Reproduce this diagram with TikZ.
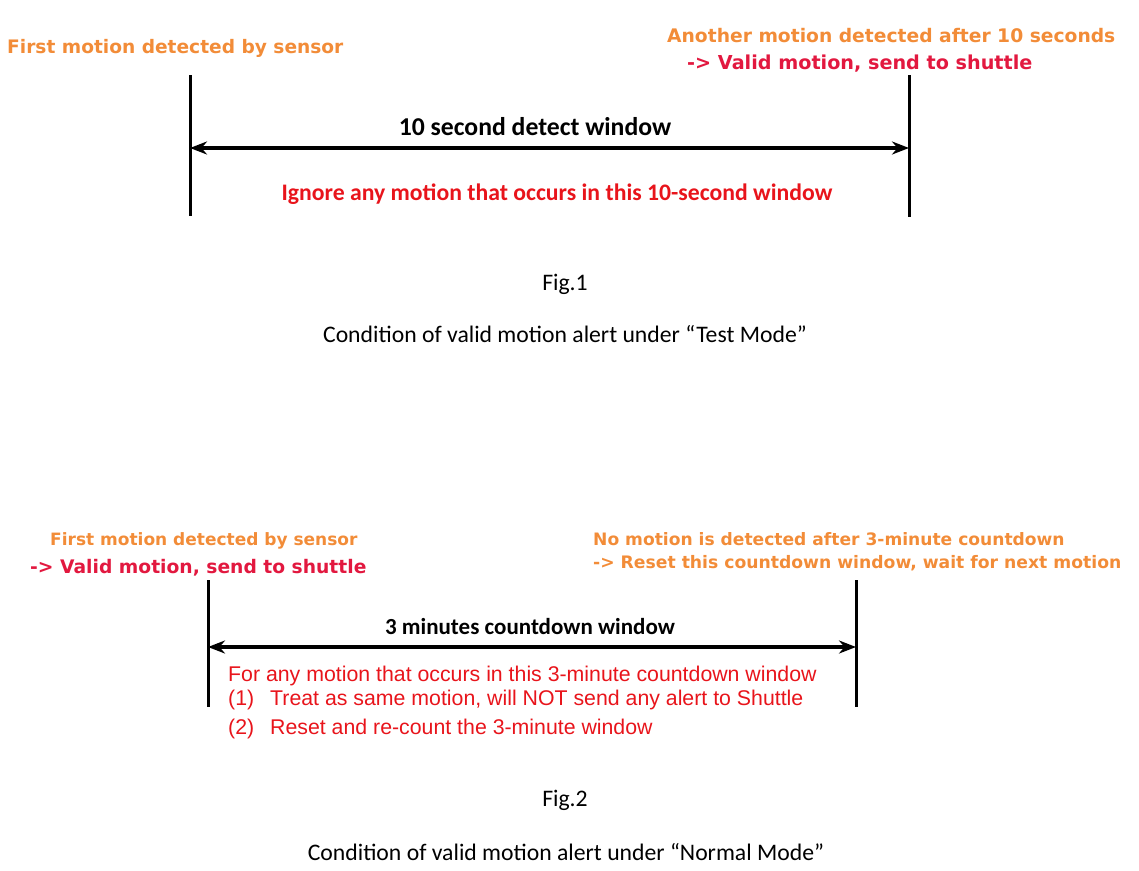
\documentclass[tikz,border=0pt]{standalone}
\usepackage{fontspec}
\usetikzlibrary{arrows.meta}
\newfontfamily\verd{DejaVu Sans}
\newfontfamily\cali{Carlito}
\newfontfamily\aria{Liberation Sans}
\definecolor{orng}{HTML}{F28C38}
\definecolor{crim}{HTML}{E2183F}
\definecolor{rd}{HTML}{E8141B}
\tikzset{
  txt/.style={inner sep=0pt, anchor=west},
  hdr/.style={txt, font=\verd\bfseries\fontsize{#1}{#1}\selectfont},
  orng hdr/.style={hdr=#1, text=orng},
  crim hdr/.style={hdr=#1, text=crim},
  wintitle/.style={inner sep=0pt, font=\cali\bfseries\fontsize{#1}{#1}\selectfont},
  caption/.style={inner sep=0pt, font=\cali\fontsize{23.7}{28}\selectfont},
  redarial/.style={inner sep=0pt, anchor=base west, text=rd, font=\aria\fontsize{21.3}{25}\selectfont},
  vline/.style={line width=3pt},
  span/.style={line width=3.5pt, {Stealth[length=17pt,width=13pt]}-{Stealth[length=17pt,width=13pt]}},
}
\begin{document}
\begin{tikzpicture}[x=1pt,y=-1pt]
\useasboundingbox (0,0) rectangle (1139,870);
% ---------- Fig.1 ----------
\node[orng hdr=18.6] (f1a) at (7,48) {First motion detected by sensor};
\node[orng hdr=18.7] (f1b) at (667,36) {Another motion detected after 10 seconds};
\node[crim hdr=19.2] (f1c) at (687,64) {-> Valid motion, send to shuttle};
\coordinate (l1t) at (190,75); \coordinate (l1b) at (190,216);
\coordinate (r1t) at (909,75); \coordinate (r1b) at (909,217);
\draw[vline] (l1t) -- (l1b);
\draw[vline] (r1t) -- (r1b);
\coordinate (a1l) at (190,148); \coordinate (a1r) at (909,148);
\draw[span] (a1l) -- (a1r);
\node[wintitle=25.7] (w1) at (535,127) {10 second detect window};
\node[inner sep=0pt, text=rd, font=\cali\bfseries\fontsize{23.7}{28}\selectfont] (ig) at (557,194) {Ignore any motion that occurs in this 10-second window};
\node[caption] (fig1) at (565,284) {Fig.1};
\node[caption] (cap1) at (565,334) {Condition of valid motion alert under “Test Mode”};
% ---------- Fig.2 ----------
\node[orng hdr=17] (f2a) at (50,541) {First motion detected by sensor};
\node[crim hdr=18.7] (f2b) at (30,568) {-> Valid motion, send to shuttle};
\node[orng hdr=17.1] (f2c) at (593,539) {No motion is detected after 3-minute countdown};
\node[orng hdr=17.2] (f2d) at (593,563) {-> Reset this countdown window, wait for next motion};
\coordinate (l2t) at (208,580); \coordinate (l2b) at (208,707);
\coordinate (r2t) at (856,580); \coordinate (r2b) at (856,707);
\draw[vline] (l2t) -- (l2b);
\draw[vline] (r2t) -- (r2b);
\coordinate (a2l) at (208,647); \coordinate (a2r) at (856,647);
\draw[span] (a2l) -- (a2r);
\node[wintitle=23] (w2) at (530,627) {3 minutes countdown window};
\node[redarial] (t0) at (228,681) {For any motion that occurs in this 3-minute countdown window};
\node[redarial] (t1n) at (228,705) {(1)};
\node[redarial] (t1) at (270,705) {Treat as same motion, will NOT send any alert to Shuttle};
\node[redarial] (t2n) at (228,734) {(2)};
\node[redarial] (t2) at (270,734) {Reset and re-count the 3-minute window};
\node[caption] (fig2) at (565,800) {Fig.2};
\node[caption] (cap2) at (566,852) {Condition of valid motion alert under “Normal Mode”};
\end{tikzpicture}
\end{document}
